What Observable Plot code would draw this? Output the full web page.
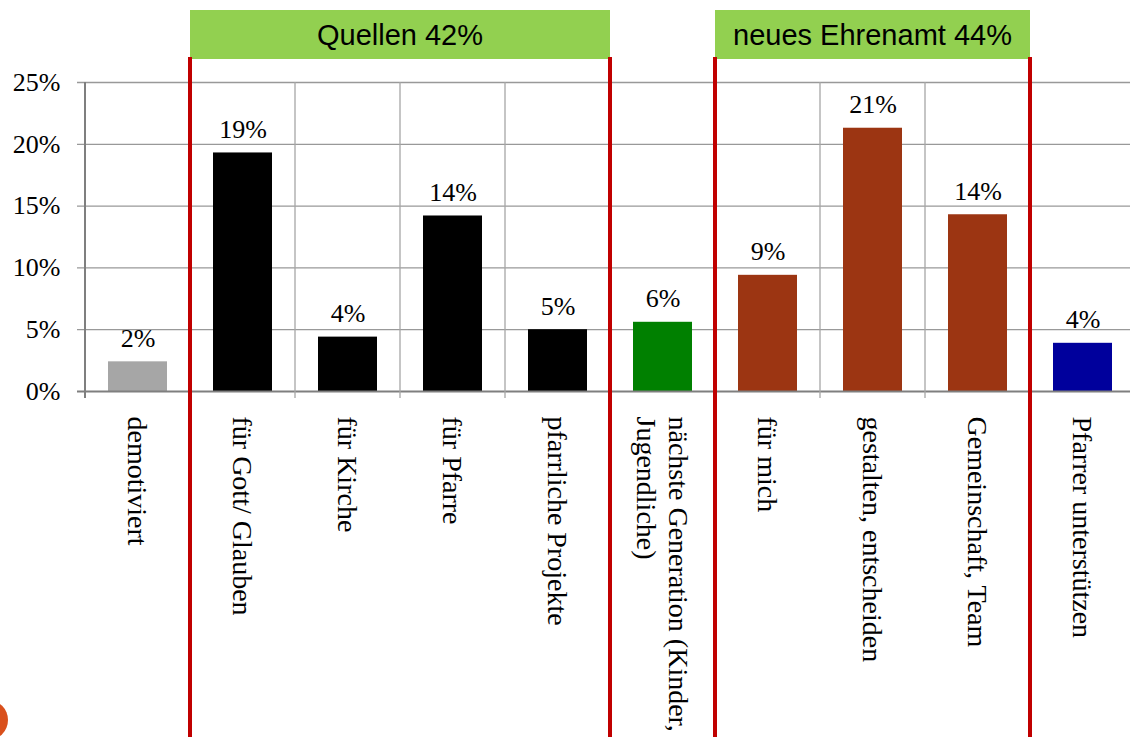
<!DOCTYPE html>
<html>
<head>
<meta charset="utf-8">
<script src="https://cdn.jsdelivr.net/npm/d3@7"></script>
<script src="https://cdn.jsdelivr.net/npm/@observablehq/plot@0.6"></script>
<style>
  html, body { margin: 0; padding: 0; background: #fff; overflow: hidden; }
  #wrap { position: relative; width: 1130px; height: 737px; overflow: hidden; }
  #dot { position: absolute; left: -32px; top: 700px; width: 40px; height: 40px; border-radius: 50%; background: #d9501c; }
</style>
</head>
<body>
<div id="wrap"><div id="dot"></div></div>
<script>
const categories = [
  "demotiviert",
  "für Gott/ Glauben",
  "für Kirche",
  "für Pfarre",
  "pfarrliche Projekte",
  "nächste Generation (Kinder,\nJugendliche)",
  "für mich",
  "gestalten, entscheiden",
  "Gemeinschaft, Team",
  "Pfarrer unterstützen"
];
const values = [2.4, 19.3, 4.4, 14.2, 5.0, 5.6, 9.4, 21.3, 14.3, 3.9];
const barColors = ["#a6a6a6", "#000000", "#000000", "#000000", "#000000", "#008000", "#9c3512", "#9c3512", "#9c3512", "#00009c"];
const yTicks = [0, 5, 10, 15, 20, 25];
const groupLabels = ["Quellen 42%", "neues Ehrenamt 44%"];
const groupFirst = [1, 6];
const groupLast = [4, 8];

const data = categories.map((c, i) => ({cat: c, value: values[i], color: barColors[i]}));

const SERIF = "'Liberation Serif', 'Times New Roman', serif";
const W = 1140, H = 737;
const chart = Plot.plot({
  width: W,
  height: H,
  marginLeft: 85,
  marginRight: 5,
  marginTop: 82,
  marginBottom: 346,
  style: "max-width:none; background:#fff; color:#000; font-family:'Liberation Serif','Times New Roman',serif; overflow:visible;",
  x: {type: "band", domain: categories, padding: 0, axis: null},
  y: {domain: [0, 25], ticks: yTicks},
  color: {type: "identity"},
  marks: [
    Plot.ruleY(yTicks.filter(d => d > 0), {stroke: "#999999", strokeWidth: 1.3, insetLeft: -8}),
    Plot.barY(data, {x: "cat", y: "value", fill: "color", insetLeft: 23, insetRight: 23}),
    Plot.ruleY([0], {stroke: "#7f7f7f", strokeWidth: 2, insetLeft: -8}),
    Plot.axisY({ticks: yTicks, tickFormat: d => d + "%", tickSize: 0, tickPadding: 25, fontSize: 26, fontFamily: SERIF, fill: "#000", label: null}),
    Plot.text(data, {x: "cat", y: "value", text: d => Math.round(d.value) + "%", dy: -15, lineAnchor: "bottom", fontSize: 26, fontFamily: SERIF, fill: "#000"}),
    Plot.text(data, {x: "cat", text: "cat", frameAnchor: "bottom", rotate: 90, textAnchor: "start", lineAnchor: "middle", lineHeight: 1.15, dy: 25, fontSize: 28, fontFamily: SERIF, fill: "#000"})
  ]
});

const sx = chart.scale("x"), sy = chart.scale("y");
const svg = d3.select(chart);
const topY = sy.apply(25), baseY = sy.apply(0);
const g = svg.append("g");

// category separators
for (let i = 1; i < categories.length; i++) {
  const x = sx.apply(categories[i]);
  g.append("line").attr("x1", x).attr("x2", x).attr("y1", topY).attr("y2", baseY + 7)
    .attr("stroke", "#a6a6a6").attr("stroke-width", 1.3);
}
// y axis line
const x0 = sx.apply(categories[0]);
g.append("line").attr("x1", x0).attr("x2", x0).attr("y1", topY).attr("y2", baseY + 7)
  .attr("stroke", "#7f7f7f").attr("stroke-width", 2);

// group headers and red brackets
groupLabels.forEach((lab, k) => {
  const a = sx.apply(categories[groupFirst[k]]);
  const b = sx.apply(categories[groupLast[k]]) + sx.bandwidth;
  g.append("rect").attr("x", a).attr("y", topY - 72).attr("width", b - a).attr("height", 49)
    .attr("fill", "#92d050");
  g.append("text").attr("x", (a + b) / 2).attr("y", topY - 47.5)
    .attr("text-anchor", "middle").attr("dominant-baseline", "central")
    .attr("font-family", "'Liberation Sans', Arial, sans-serif").attr("font-size", 29)
    .attr("fill", "#000").text(lab);
  [a, b].forEach(x => {
    g.append("line").attr("x1", x).attr("x2", x).attr("y1", topY - 25).attr("y2", H)
      .attr("stroke", "#c00000").attr("stroke-width", 4);
  });
});

document.getElementById("wrap").appendChild(chart);
</script>
</body>
</html>
